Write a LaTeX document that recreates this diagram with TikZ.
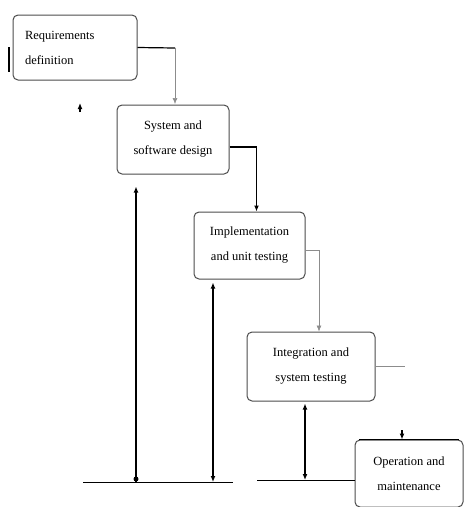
\documentclass[tikz,border=0pt]{standalone}
\usepackage{fontspec}
\setmainfont{Liberation Serif}
\usetikzlibrary{arrows.meta}
\tikzset{
	phase/.style={draw=black!70, line width=1pt, rounded corners=5pt, fill=white, inner sep=0pt, font=\fontsize{12.5}{25}\selectfont},
	flow/.style={line width=1.2pt, -{Latex[length=6pt,width=5pt]}},
	faint/.style={draw=black!45, line width=0.6pt, -{Latex[length=6pt,width=5pt]}},
	back/.style={line width=1.2pt, {Latex[length=6pt,width=5pt]}-{Latex[length=6pt,width=5pt]}}
}
\begin{document}
\begin{tikzpicture}[x=1pt, y=-1pt]
		\useasboundingbox (0,0) rectangle (468,507);
		% phases
		\node[phase, minimum width=124pt, minimum height=65pt, align=left, text width=100pt] (req) at (75,47.5) {Requirements\\definition};
		\node[phase, minimum width=112pt, minimum height=69pt, align=center] (design) at (173,139.5) {System and\\software design};
		\node[phase, minimum width=111pt, minimum height=67pt, align=center] (impl) at (249.5,245.5) {Implementation\\and unit testing};
		\node[phase, minimum width=128pt, minimum height=69pt, align=center] (integ) at (311,366.5) {Integration and\\system testing};
		\node[phase, minimum width=108pt, minimum height=67pt, align=center] (oper) at (409,473.5) {Operation and\\maintenance};
		\draw[line width=2pt] (9,47) -- (9,72);
		\draw[line width=1.6pt] ([xshift=-50pt]oper.north) -- ([xshift=50pt]oper.north);
		% forward
		\draw[line width=1.2pt] (req.east) -- (175,48);
		\draw[faint] (175,48) -- (175,104);
		\draw[flow] ([yshift=-7.5pt]design.east) -| ([xshift=7pt]impl.north);
		\draw[faint] ([yshift=-4.5pt]impl.east) -| ([xshift=8pt]integ.north);
		\draw[line width=0.6pt, draw=black!45] (integ.east) -- (405,366.5);
		\draw[flow] (402,430) -- ([xshift=-7pt]oper.north);
		\draw[flow] (80,112) -- (80,103);
		% baselines
		\coordinate (b1l) at (83,482);
		\coordinate (b1r) at (233,482);
		\coordinate (b2l) at (257,480);
		\draw[line width=0.8pt] (b1l) -- (b1r);
		\draw[line width=0.8pt] (b2l) -- (oper.west |- b2l);
		% feedback
		\coordinate (v1) at ([xshift=-37pt]design.south);
		\coordinate (v2) at ([xshift=-36.5pt]impl.south);
		\coordinate (v3) at ([xshift=-6pt]integ.south);
		\draw[line width=1.2pt, -{Latex[length=6pt,width=5pt]}, shorten >=12pt] (v1 |- b1l) -- (v1);
		\fill (v1 |- b1l) ++(0,-3) circle (2.5pt);
		\draw[back, shorten <=3pt] (v2) -- (v2 |- b1l);
		\draw[back, shorten <=2pt] (v3) -- (v3 |- b2l);
\end{tikzpicture}
\end{document}
